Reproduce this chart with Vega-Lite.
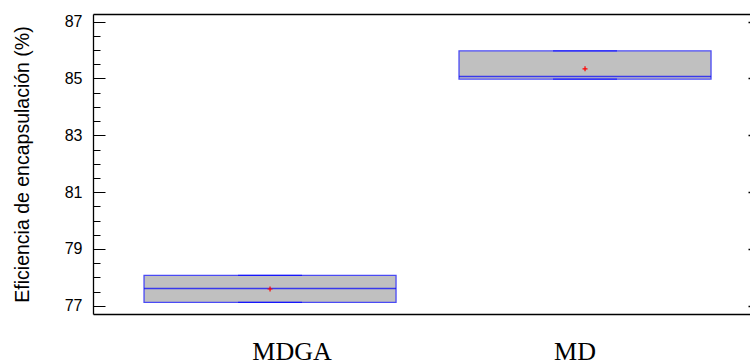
{
  "$schema": "https://vega.github.io/schema/vega-lite/v6.json",
  "autosize": {"type": "none"},
  "padding": {"left": 93, "top": 14, "right": 0, "bottom": 50},
  "width": 657,
  "height": 300,
  "background": "white",
  "config": {"view": {"stroke": null}},
  "data": {"values": [
    {"grupo": "MDGA", "min": 77.12, "q1": 77.12, "median": 77.61, "q3": 78.07, "max": 78.07, "mean": 77.59},
    {"grupo": "MD", "min": 84.98, "q1": 84.98, "median": 85.07, "q3": 85.97, "max": 85.97, "mean": 85.34}
  ]},
  "layer": [
    {
      "mark": {"type": "bar", "fill": "#c0c0c0", "stroke": "#4a4af5", "strokeWidth": 1.3},
      "encoding": {
        "x": {
          "field": "grupo", "type": "nominal", "sort": ["MDGA", "MD"],
          "scale": {"paddingInner": 0.2, "paddingOuter": 0.1429, "align": 0.567},
          "axis": {
            "orient": "bottom", "title": null, "ticks": false, "domain": true, "domainColor": "black", "domainWidth": 1.3,
            "labelAngle": 0, "labelFont": "Liberation Serif", "labelFontSize": 26, "labelColor": "black",
            "labelBaseline": "alphabetic", "labelPadding": 45,
            "labelOffset": {"condition": {"test": "datum.value === 'MDGA'", "value": 22}, "value": -10}
          }
        },
        "y": {
          "field": "q1", "type": "quantitative",
          "scale": {"domain": [76.71, 87.27], "nice": false, "zero": false},
          "axis": {
            "title": "Eficiencia de encapsulación (%)", "titleFont": "Liberation Sans", "titleFontSize": 19.5,
            "titleFontWeight": "normal", "titleColor": "black", "titlePadding": 32,
            "values": [77, 79, 81, 83, 85, 87], "format": "d",
            "labelFont": "Liberation Sans", "labelFontSize": 16, "labelColor": "black",
            "tickSize": -12, "tickColor": "black", "tickWidth": 1, "labelPadding": 23,
            "domainColor": "black", "domainWidth": 1.3, "grid": false
          }
        },
        "y2": {"field": "q3"}
      }
    },
    {
      "mark": {"type": "tick", "color": "#0000ff", "thickness": 1.3, "size": 64, "orient": "horizontal"},
      "encoding": {
        "x": {"field": "grupo", "type": "nominal", "sort": ["MDGA", "MD"], "axis": null},
        "y": {"field": "max", "type": "quantitative", "axis": null}
      }
    },
    {
      "mark": {"type": "tick", "color": "#0000ff", "thickness": 1.3, "size": 64, "orient": "horizontal"},
      "encoding": {
        "x": {"field": "grupo", "type": "nominal", "sort": ["MDGA", "MD"], "axis": null},
        "y": {"field": "min", "type": "quantitative", "axis": null}
      }
    },
    {
      "mark": {"type": "tick", "color": "#0000ff", "thickness": 1.5, "size": 252, "orient": "horizontal"},
      "encoding": {
        "x": {"field": "grupo", "type": "nominal", "sort": ["MDGA", "MD"], "axis": null},
        "y": {"field": "median", "type": "quantitative", "axis": null}
      }
    },
    {
      "mark": {"type": "point", "shape": "M-1,0L1,0M0,-1L0,1", "size": 25, "filled": false, "stroke": "#ff0000", "strokeWidth": 1.2, "opacity": 1},
      "encoding": {
        "x": {"field": "grupo", "type": "nominal", "sort": ["MDGA", "MD"], "axis": null},
        "y": {"field": "mean", "type": "quantitative", "axis": null}
      }
    },
    {
      "mark": {"type": "rule", "opacity": 0},
      "encoding": {
        "y": {
          "field": "mean", "type": "quantitative",
          "axis": {
            "orient": "left", "title": null, "labels": false, "domain": false, "grid": false,
            "values": [76.5, 77.5, 78, 78.5, 79.5, 80, 80.5, 81.5, 82, 82.5, 83.5, 84, 84.5, 85.5, 86, 86.5],
            "tickSize": -7, "tickColor": "black", "tickWidth": 1
          }
        }
      }
    },
    {
      "mark": {"type": "rule", "opacity": 0},
      "encoding": {
        "y": {
          "field": "median", "type": "quantitative",
          "axis": {
            "orient": "right", "title": null, "labels": false, "domain": false, "grid": false,
            "values": [77, 79, 81, 83, 85, 87], "tickSize": -2, "tickColor": "black", "tickWidth": 1.5
          }
        }
      }
    },
    {
      "mark": {"type": "rule", "opacity": 0},
      "encoding": {
        "x": {
          "field": "grupo", "type": "nominal", "sort": ["MDGA", "MD"],
          "axis": {"orient": "top", "title": null, "labels": false, "ticks": false, "domain": true, "domainColor": "black", "domainWidth": 1.3}
        },
        "y": {"field": "median", "type": "quantitative", "axis": null}
      }
    }
  ],
  "resolve": {"axis": {"y": "independent", "x": "independent"}}
}
